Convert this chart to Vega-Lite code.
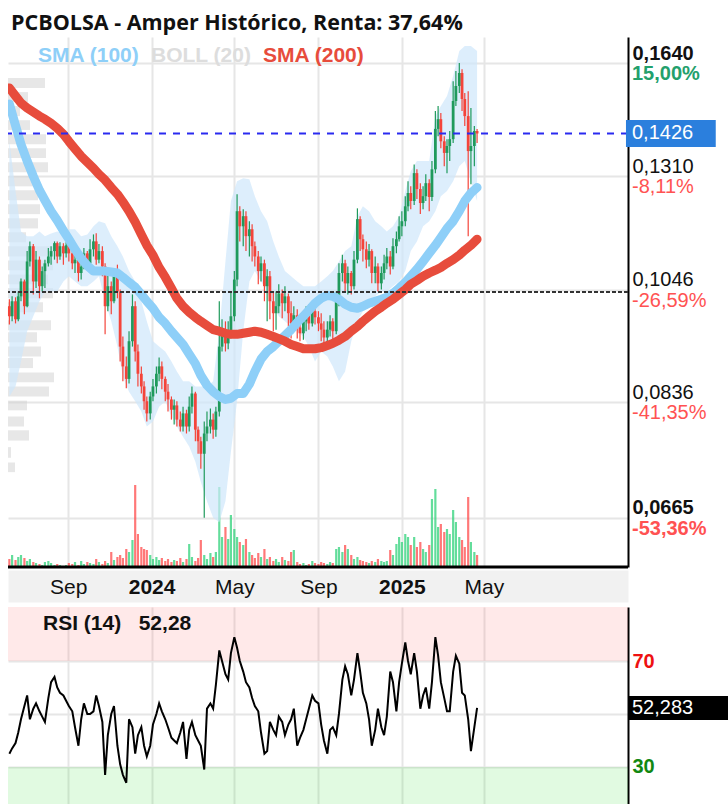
{
"$schema": "https://vega.github.io/schema/vega-lite/v6.json",
"background": "white",
"padding": {"left": 5, "top": 12, "right": 0, "bottom": 0},
"config": {"view": {"stroke": null}, "font": "Liberation Sans"},
"title": {"text": "PCBOLSA - Amper Histórico, Renta: 37,64%", "anchor": "start", "frame": "group", "dx": 3, "offset": 3, "font": "Open Sans", "fontSize": 21.5, "fontWeight": "bold", "color": "#111111"},
"bounds": "flush",
"spacing": 40,
"resolve": {"scale": {"x": "independent", "y": "independent"}},
"datasets": {
"candles": [
{"d":"2023-06-07","o":0.1012,"h":0.1026,"l":0.0976,"c":0.0992,"v":800,"r":35},
{"d":"2023-06-11","o":0.0992,"h":0.1032,"l":0.0982,"c":0.1022,"v":1200,"r":37},
{"d":"2023-06-16","o":0.1022,"h":0.1030,"l":0.0978,"c":0.0986,"v":700,"r":39},
{"d":"2023-06-20","o":0.0986,"h":0.1042,"l":0.0982,"c":0.1032,"v":1000,"r":43},
{"d":"2023-06-24","o":0.1032,"h":0.1069,"l":0.1022,"c":0.1063,"v":1200,"r":48},
{"d":"2023-06-29","o":0.1063,"h":0.1067,"l":0.0996,"c":0.1012,"v":900,"r":53},
{"d":"2023-07-03","o":0.1012,"h":0.1129,"l":0.1010,"c":0.1106,"v":600,"r":57},
{"d":"2023-07-07","o":0.1106,"h":0.1151,"l":0.1095,"c":0.1140,"v":800,"r":48},
{"d":"2023-07-12","o":0.1140,"h":0.1145,"l":0.1036,"c":0.1063,"v":500,"r":52},
{"d":"2023-07-16","o":0.1063,"h":0.1129,"l":0.1049,"c":0.1110,"v":400,"r":54},
{"d":"2023-07-21","o":0.1110,"h":0.1117,"l":0.1028,"c":0.1053,"v":300,"r":51},
{"d":"2023-07-25","o":0.1053,"h":0.1095,"l":0.1042,"c":0.1085,"v":200,"r":49},
{"d":"2023-07-29","o":0.1085,"h":0.1110,"l":0.1049,"c":0.1102,"v":500,"r":47},
{"d":"2023-08-03","o":0.1102,"h":0.1136,"l":0.1095,"c":0.1117,"v":600,"r":56},
{"d":"2023-08-07","o":0.1117,"h":0.1140,"l":0.1099,"c":0.1129,"v":400,"r":62},
{"d":"2023-08-12","o":0.1129,"h":0.1151,"l":0.1110,"c":0.1147,"v":200,"r":64},
{"d":"2023-08-16","o":0.1147,"h":0.1151,"l":0.1102,"c":0.1117,"v":300,"r":60},
{"d":"2023-08-20","o":0.1117,"h":0.1149,"l":0.1110,"c":0.1140,"v":200,"r":58},
{"d":"2023-08-25","o":0.1140,"h":0.1147,"l":0.1099,"c":0.1124,"v":100,"r":57},
{"d":"2023-08-29","o":0.1124,"h":0.1149,"l":0.1115,"c":0.1142,"v":200,"r":55},
{"d":"2023-09-02","o":0.1142,"h":0.1145,"l":0.1106,"c":0.1124,"v":400,"r":53},
{"d":"2023-09-07","o":0.1124,"h":0.1133,"l":0.1089,"c":0.1102,"v":300,"r":51},
{"d":"2023-09-11","o":0.1102,"h":0.1124,"l":0.1081,"c":0.1110,"v":500,"r":45},
{"d":"2023-09-16","o":0.1110,"h":0.1117,"l":0.1063,"c":0.1081,"v":200,"r":38},
{"d":"2023-09-20","o":0.1081,"h":0.1110,"l":0.1067,"c":0.1095,"v":600,"r":48},
{"d":"2023-09-24","o":0.1095,"h":0.1136,"l":0.1089,"c":0.1124,"v":300,"r":54},
{"d":"2023-09-29","o":0.1124,"h":0.1129,"l":0.1089,"c":0.1102,"v":500,"r":50},
{"d":"2023-10-03","o":0.1102,"h":0.1156,"l":0.1095,"c":0.1133,"v":400,"r":50},
{"d":"2023-10-08","o":0.1133,"h":0.1167,"l":0.1117,"c":0.1151,"v":300,"r":51},
{"d":"2023-10-12","o":0.1151,"h":0.1170,"l":0.1099,"c":0.1110,"v":800,"r":57},
{"d":"2023-10-16","o":0.1110,"h":0.1145,"l":0.1102,"c":0.1129,"v":500,"r":53},
{"d":"2023-10-21","o":0.1129,"h":0.1140,"l":0.1074,"c":0.1095,"v":300,"r":47},
{"d":"2023-10-25","o":0.1095,"h":0.1102,"l":0.0957,"c":0.1012,"v":600,"r":27},
{"d":"2023-10-29","o":0.1012,"h":0.1078,"l":0.1002,"c":0.1053,"v":400,"r":42},
{"d":"2023-11-03","o":0.1053,"h":0.1063,"l":0.0996,"c":0.1022,"v":1500,"r":50},
{"d":"2023-11-07","o":0.1022,"h":0.1089,"l":0.1018,"c":0.1074,"v":700,"r":53},
{"d":"2023-11-12","o":0.1074,"h":0.1099,"l":0.1028,"c":0.1042,"v":1000,"r":38},
{"d":"2023-11-16","o":0.1042,"h":0.1046,"l":0.0907,"c":0.0934,"v":1200,"r":31},
{"d":"2023-11-20","o":0.0934,"h":0.0953,"l":0.0872,"c":0.0898,"v":900,"r":27},
{"d":"2023-11-25","o":0.0898,"h":0.0916,"l":0.0860,"c":0.0876,"v":1800,"r":24},
{"d":"2023-11-29","o":0.0876,"h":0.0963,"l":0.0868,"c":0.0944,"v":1500,"r":48},
{"d":"2023-12-04","o":0.0944,"h":0.1036,"l":0.0934,"c":0.1012,"v":2700,"r":45},
{"d":"2023-12-08","o":0.1012,"h":0.1022,"l":0.0907,"c":0.0925,"v":8200,"r":35},
{"d":"2023-12-12","o":0.0925,"h":0.0938,"l":0.0863,"c":0.0885,"v":3300,"r":42},
{"d":"2023-12-17","o":0.0885,"h":0.0898,"l":0.0851,"c":0.0863,"v":2000,"r":45},
{"d":"2023-12-21","o":0.0863,"h":0.0872,"l":0.0824,"c":0.0838,"v":1800,"r":38},
{"d":"2023-12-25","o":0.0838,"h":0.0846,"l":0.0805,"c":0.0818,"v":1700,"r":34},
{"d":"2023-12-30","o":0.0818,"h":0.0854,"l":0.0808,"c":0.0846,"v":1200,"r":38},
{"d":"2024-01-03","o":0.0846,"h":0.0876,"l":0.0838,"c":0.0863,"v":800,"r":46},
{"d":"2024-01-08","o":0.0863,"h":0.0898,"l":0.0851,"c":0.0885,"v":1000,"r":50},
{"d":"2024-01-12","o":0.0885,"h":0.0914,"l":0.0872,"c":0.0898,"v":700,"r":54},
{"d":"2024-01-16","o":0.0898,"h":0.0907,"l":0.0858,"c":0.0876,"v":900,"r":51},
{"d":"2024-01-21","o":0.0876,"h":0.0880,"l":0.0838,"c":0.0854,"v":600,"r":48},
{"d":"2024-01-25","o":0.0854,"h":0.0867,"l":0.0821,"c":0.0841,"v":800,"r":45},
{"d":"2024-01-30","o":0.0841,"h":0.0846,"l":0.0808,"c":0.0824,"v":500,"r":41},
{"d":"2024-02-03","o":0.0824,"h":0.0841,"l":0.0800,"c":0.0831,"v":700,"r":40},
{"d":"2024-02-07","o":0.0831,"h":0.0838,"l":0.0797,"c":0.0808,"v":600,"r":39},
{"d":"2024-02-12","o":0.0808,"h":0.0821,"l":0.0789,"c":0.0797,"v":900,"r":43},
{"d":"2024-02-16","o":0.0797,"h":0.0829,"l":0.0789,"c":0.0818,"v":500,"r":47},
{"d":"2024-02-21","o":0.0818,"h":0.0824,"l":0.0786,"c":0.0797,"v":800,"r":33},
{"d":"2024-02-25","o":0.0797,"h":0.0846,"l":0.0789,"c":0.0829,"v":2300,"r":44},
{"d":"2024-02-29","o":0.0829,"h":0.0863,"l":0.0818,"c":0.0851,"v":1000,"r":47},
{"d":"2024-03-05","o":0.0851,"h":0.0854,"l":0.0774,"c":0.0792,"v":600,"r":42},
{"d":"2024-03-09","o":0.0792,"h":0.0797,"l":0.0755,"c":0.0774,"v":900,"r":40},
{"d":"2024-03-13","o":0.0774,"h":0.0781,"l":0.0733,"c":0.0755,"v":2700,"r":38},
{"d":"2024-03-18","o":0.0755,"h":0.0805,"l":0.0665,"c":0.0786,"v":1200,"r":29},
{"d":"2024-03-22","o":0.0786,"h":0.0821,"l":0.0774,"c":0.0797,"v":800,"r":52},
{"d":"2024-03-27","o":0.0797,"h":0.0826,"l":0.0786,"c":0.0808,"v":1400,"r":54},
{"d":"2024-03-31","o":0.0808,"h":0.0818,"l":0.0778,"c":0.0792,"v":1000,"r":52},
{"d":"2024-04-04","o":0.0792,"h":0.0829,"l":0.0781,"c":0.0821,"v":1500,"r":61},
{"d":"2024-04-09","o":0.0821,"h":0.1022,"l":0.0813,"c":0.0934,"v":8000,"r":74},
{"d":"2024-04-13","o":0.0934,"h":0.0986,"l":0.0925,"c":0.0963,"v":3000,"r":70},
{"d":"2024-04-18","o":0.0963,"h":0.0982,"l":0.0925,"c":0.0940,"v":4000,"r":65},
{"d":"2024-04-22","o":0.0940,"h":0.0982,"l":0.0929,"c":0.0963,"v":2800,"r":63},
{"d":"2024-04-26","o":0.0963,"h":0.1042,"l":0.0949,"c":0.0992,"v":5200,"r":73},
{"d":"2024-05-01","o":0.0992,"h":0.1085,"l":0.0982,"c":0.1067,"v":3800,"r":79},
{"d":"2024-05-05","o":0.1067,"h":0.1264,"l":0.1053,"c":0.1222,"v":3000,"r":75},
{"d":"2024-05-09","o":0.1222,"h":0.1234,"l":0.1151,"c":0.1186,"v":2500,"r":70},
{"d":"2024-05-14","o":0.1186,"h":0.1227,"l":0.1140,"c":0.1210,"v":2200,"r":66},
{"d":"2024-05-18","o":0.1210,"h":0.1222,"l":0.1129,"c":0.1163,"v":2800,"r":62},
{"d":"2024-05-23","o":0.1163,"h":0.1198,"l":0.1117,"c":0.1179,"v":1500,"r":60},
{"d":"2024-05-27","o":0.1179,"h":0.1191,"l":0.1106,"c":0.1140,"v":1200,"r":56},
{"d":"2024-05-31","o":0.1140,"h":0.1151,"l":0.1095,"c":0.1117,"v":900,"r":53},
{"d":"2024-06-05","o":0.1117,"h":0.1129,"l":0.1057,"c":0.1085,"v":1400,"r":51},
{"d":"2024-06-09","o":0.1085,"h":0.1117,"l":0.1063,"c":0.1102,"v":1000,"r":43},
{"d":"2024-06-14","o":0.1102,"h":0.1110,"l":0.1022,"c":0.1053,"v":1800,"r":35},
{"d":"2024-06-18","o":0.1053,"h":0.1089,"l":0.0982,"c":0.1074,"v":800,"r":36},
{"d":"2024-06-22","o":0.1074,"h":0.1085,"l":0.0986,"c":0.1022,"v":1000,"r":47},
{"d":"2024-06-27","o":0.1022,"h":0.1042,"l":0.0963,"c":0.0998,"v":600,"r":44},
{"d":"2024-07-01","o":0.0998,"h":0.1042,"l":0.0966,"c":0.1012,"v":800,"r":42},
{"d":"2024-07-05","o":0.1012,"h":0.1057,"l":0.0998,"c":0.1038,"v":500,"r":49},
{"d":"2024-07-10","o":0.1038,"h":0.1046,"l":0.0988,"c":0.1018,"v":1000,"r":47},
{"d":"2024-07-14","o":0.1018,"h":0.1053,"l":0.1002,"c":0.1032,"v":700,"r":42},
{"d":"2024-07-19","o":0.1032,"h":0.1038,"l":0.0972,"c":0.0998,"v":600,"r":46},
{"d":"2024-07-23","o":0.0998,"h":0.1022,"l":0.0949,"c":0.0978,"v":1500,"r":48},
{"d":"2024-07-27","o":0.0978,"h":0.1012,"l":0.0963,"c":0.0994,"v":1700,"r":52},
{"d":"2024-08-01","o":0.0994,"h":0.1006,"l":0.0949,"c":0.0970,"v":500,"r":38},
{"d":"2024-08-05","o":0.0970,"h":0.0988,"l":0.0944,"c":0.0959,"v":300,"r":41},
{"d":"2024-08-10","o":0.0959,"h":0.0996,"l":0.0947,"c":0.0982,"v":400,"r":44},
{"d":"2024-08-14","o":0.0982,"h":0.1012,"l":0.0963,"c":0.0998,"v":200,"r":48},
{"d":"2024-08-18","o":0.0998,"h":0.1016,"l":0.0966,"c":0.0978,"v":300,"r":52},
{"d":"2024-08-23","o":0.0978,"h":0.1014,"l":0.0972,"c":0.1002,"v":600,"r":57},
{"d":"2024-08-27","o":0.1002,"h":0.1010,"l":0.0976,"c":0.0990,"v":400,"r":55},
{"d":"2024-09-01","o":0.0990,"h":0.1002,"l":0.0963,"c":0.0978,"v":300,"r":54},
{"d":"2024-09-05","o":0.0978,"h":0.0998,"l":0.0944,"c":0.0966,"v":500,"r":46},
{"d":"2024-09-09","o":0.0966,"h":0.0982,"l":0.0938,"c":0.0951,"v":400,"r":40},
{"d":"2024-09-14","o":0.0951,"h":0.0982,"l":0.0944,"c":0.0966,"v":300,"r":35},
{"d":"2024-09-18","o":0.0966,"h":0.0994,"l":0.0953,"c":0.0982,"v":500,"r":44},
{"d":"2024-09-22","o":0.0982,"h":0.0988,"l":0.0944,"c":0.0963,"v":400,"r":45},
{"d":"2024-09-27","o":0.0963,"h":0.1042,"l":0.0957,"c":0.1022,"v":1800,"r":42},
{"d":"2024-10-01","o":0.1022,"h":0.1102,"l":0.1012,"c":0.1081,"v":2000,"r":50},
{"d":"2024-10-06","o":0.1081,"h":0.1121,"l":0.1063,"c":0.1102,"v":1500,"r":63},
{"d":"2024-10-10","o":0.1102,"h":0.1110,"l":0.1042,"c":0.1059,"v":2200,"r":68},
{"d":"2024-10-14","o":0.1059,"h":0.1095,"l":0.1036,"c":0.1081,"v":1800,"r":65},
{"d":"2024-10-19","o":0.1081,"h":0.1085,"l":0.1036,"c":0.1053,"v":1200,"r":57},
{"d":"2024-10-23","o":0.1053,"h":0.1129,"l":0.1046,"c":0.1110,"v":800,"r":63},
{"d":"2024-10-28","o":0.1110,"h":0.1229,"l":0.1102,"c":0.1203,"v":1000,"r":73},
{"d":"2024-11-01","o":0.1203,"h":0.1210,"l":0.1129,"c":0.1156,"v":700,"r":66},
{"d":"2024-11-05","o":0.1156,"h":0.1167,"l":0.1106,"c":0.1133,"v":600,"r":58},
{"d":"2024-11-10","o":0.1133,"h":0.1151,"l":0.1091,"c":0.1110,"v":500,"r":54},
{"d":"2024-11-14","o":0.1110,"h":0.1145,"l":0.1095,"c":0.1129,"v":400,"r":48},
{"d":"2024-11-18","o":0.1129,"h":0.1133,"l":0.1059,"c":0.1081,"v":600,"r":38},
{"d":"2024-11-23","o":0.1081,"h":0.1117,"l":0.1059,"c":0.1095,"v":500,"r":44},
{"d":"2024-11-27","o":0.1095,"h":0.1102,"l":0.1042,"c":0.1059,"v":800,"r":52},
{"d":"2024-12-02","o":0.1059,"h":0.1095,"l":0.1046,"c":0.1081,"v":600,"r":45},
{"d":"2024-12-06","o":0.1081,"h":0.1121,"l":0.1067,"c":0.1102,"v":500,"r":42},
{"d":"2024-12-10","o":0.1102,"h":0.1136,"l":0.1089,"c":0.1117,"v":600,"r":49},
{"d":"2024-12-15","o":0.1117,"h":0.1129,"l":0.1078,"c":0.1095,"v":1700,"r":66},
{"d":"2024-12-19","o":0.1095,"h":0.1158,"l":0.1089,"c":0.1140,"v":1200,"r":62},
{"d":"2024-12-24","o":0.1140,"h":0.1174,"l":0.1124,"c":0.1156,"v":2300,"r":51},
{"d":"2024-12-28","o":0.1156,"h":0.1210,"l":0.1151,"c":0.1186,"v":3000,"r":62},
{"d":"2025-01-01","o":0.1186,"h":0.1222,"l":0.1163,"c":0.1198,"v":2500,"r":69},
{"d":"2025-01-06","o":0.1198,"h":0.1259,"l":0.1186,"c":0.1234,"v":3300,"r":77},
{"d":"2025-01-10","o":0.1234,"h":0.1297,"l":0.1222,"c":0.1267,"v":3000,"r":70},
{"d":"2025-01-14","o":0.1267,"h":0.1284,"l":0.1227,"c":0.1247,"v":2200,"r":65},
{"d":"2025-01-19","o":0.1247,"h":0.1341,"l":0.1237,"c":0.1318,"v":3000,"r":73},
{"d":"2025-01-23","o":0.1318,"h":0.1328,"l":0.1252,"c":0.1277,"v":2000,"r":66},
{"d":"2025-01-28","o":0.1277,"h":0.1292,"l":0.1215,"c":0.1242,"v":2500,"r":52},
{"d":"2025-02-01","o":0.1242,"h":0.1284,"l":0.1227,"c":0.1259,"v":1800,"r":57},
{"d":"2025-02-05","o":0.1259,"h":0.1315,"l":0.1247,"c":0.1292,"v":1500,"r":60},
{"d":"2025-02-10","o":0.1292,"h":0.1302,"l":0.1222,"c":0.1257,"v":2200,"r":52},
{"d":"2025-02-14","o":0.1257,"h":0.1350,"l":0.1247,"c":0.1328,"v":6800,"r":62},
{"d":"2025-02-19","o":0.1328,"h":0.1491,"l":0.1318,"c":0.1439,"v":7800,"r":79},
{"d":"2025-02-23","o":0.1439,"h":0.1506,"l":0.1418,"c":0.1467,"v":4000,"r":72},
{"d":"2025-02-27","o":0.1467,"h":0.1485,"l":0.1385,"c":0.1404,"v":4300,"r":62},
{"d":"2025-03-04","o":0.1404,"h":0.1418,"l":0.1336,"c":0.1372,"v":3500,"r":56},
{"d":"2025-03-08","o":0.1372,"h":0.1410,"l":0.1318,"c":0.1391,"v":3800,"r":51},
{"d":"2025-03-12","o":0.1391,"h":0.1433,"l":0.1350,"c":0.1410,"v":3300,"r":51},
{"d":"2025-03-17","o":0.1410,"h":0.1582,"l":0.1399,"c":0.1521,"v":5700,"r":66},
{"d":"2025-03-21","o":0.1521,"h":0.1614,"l":0.1506,"c":0.1567,"v":4500,"r":72},
{"d":"2025-03-26","o":0.1567,"h":0.1640,"l":0.1545,"c":0.1608,"v":3000,"r":69},
{"d":"2025-03-30","o":0.1608,"h":0.1620,"l":0.1491,"c":0.1527,"v":2700,"r":58},
{"d":"2025-04-03","o":0.1527,"h":0.1545,"l":0.1447,"c":0.1476,"v":2000,"r":57},
{"d":"2025-04-08","o":0.1476,"h":0.1551,"l":0.1163,"c":0.1377,"v":7000,"r":48},
{"d":"2025-04-12","o":0.1377,"h":0.1500,"l":0.1289,"c":0.1391,"v":2500,"r":36},
{"d":"2025-04-17","o":0.1391,"h":0.1447,"l":0.1336,"c":0.1433,"v":1500,"r":45},
{"d":"2025-04-21","o":0.1433,"h":0.1439,"l":0.1399,"c":0.1426,"v":1200,"r":52.28}
],
"ind": [
{"d":"2023-06-07","up":0.1404,"lo":0.0846,"s100":0.1512,"s200":0.1561},
{"d":"2023-06-16","up":0.1272,"lo":0.0863,"s100":0.1449,"s200":0.1536},
{"d":"2023-06-24","up":0.1174,"lo":0.0907,"s100":0.1396,"s200":0.1515},
{"d":"2023-07-03","up":0.1163,"lo":0.0963,"s100":0.1350,"s200":0.1500},
{"d":"2023-07-12","up":0.1163,"lo":0.0992,"s100":0.1310,"s200":0.1488},
{"d":"2023-07-21","up":0.1174,"lo":0.1022,"s100":0.1274,"s200":0.1476},
{"d":"2023-07-29","up":0.1163,"lo":0.1042,"s100":0.1249,"s200":0.1467},
{"d":"2023-08-07","up":0.1169,"lo":0.1042,"s100":0.1222,"s200":0.1455},
{"d":"2023-08-16","up":0.1174,"lo":0.1042,"s100":0.1200,"s200":0.1441},
{"d":"2023-08-25","up":0.1169,"lo":0.1063,"s100":0.1176,"s200":0.1424},
{"d":"2023-09-02","up":0.1179,"lo":0.1074,"s100":0.1156,"s200":0.1404},
{"d":"2023-09-11","up":0.1179,"lo":0.1063,"s100":0.1133,"s200":0.1383},
{"d":"2023-09-20","up":0.1163,"lo":0.1053,"s100":0.1113,"s200":0.1363},
{"d":"2023-09-29","up":0.1167,"lo":0.1053,"s100":0.1097,"s200":0.1347},
{"d":"2023-10-08","up":0.1186,"lo":0.1063,"s100":0.1085,"s200":0.1331},
{"d":"2023-10-16","up":0.1198,"lo":0.1074,"s100":0.1085,"s200":0.1315},
{"d":"2023-10-25","up":0.1193,"lo":0.1022,"s100":0.1085,"s200":0.1300},
{"d":"2023-11-03","up":0.1163,"lo":0.0982,"s100":0.1083,"s200":0.1281},
{"d":"2023-11-12","up":0.1140,"lo":0.0934,"s100":0.1081,"s200":0.1264},
{"d":"2023-11-20","up":0.1117,"lo":0.0880,"s100":0.1072,"s200":0.1245},
{"d":"2023-11-29","up":0.1085,"lo":0.0854,"s100":0.1061,"s200":0.1222},
{"d":"2023-12-08","up":0.1063,"lo":0.0838,"s100":0.1051,"s200":0.1196},
{"d":"2023-12-17","up":0.1022,"lo":0.0821,"s100":0.1036,"s200":0.1167},
{"d":"2023-12-25","up":0.0982,"lo":0.0797,"s100":0.1022,"s200":0.1142},
{"d":"2024-01-03","up":0.0944,"lo":0.0805,"s100":0.1008,"s200":0.1120},
{"d":"2024-01-12","up":0.0934,"lo":0.0829,"s100":0.0990,"s200":0.1093},
{"d":"2024-01-21","up":0.0925,"lo":0.0838,"s100":0.0978,"s200":0.1072},
{"d":"2024-01-30","up":0.0907,"lo":0.0813,"s100":0.0963,"s200":0.1049},
{"d":"2024-02-07","up":0.0889,"lo":0.0797,"s100":0.0951,"s200":0.1028},
{"d":"2024-02-16","up":0.0872,"lo":0.0781,"s100":0.0938,"s200":0.1012},
{"d":"2024-02-25","up":0.0872,"lo":0.0766,"s100":0.0920,"s200":0.1000},
{"d":"2024-03-05","up":0.0863,"lo":0.0743,"s100":0.0903,"s200":0.0990},
{"d":"2024-03-13","up":0.0863,"lo":0.0714,"s100":0.0882,"s200":0.0982},
{"d":"2024-03-22","up":0.0863,"lo":0.0687,"s100":0.0865,"s200":0.0974},
{"d":"2024-03-31","up":0.0872,"lo":0.0665,"s100":0.0854,"s200":0.0966},
{"d":"2024-04-09","up":0.0963,"lo":0.0659,"s100":0.0846,"s200":0.0963},
{"d":"2024-04-18","up":0.1106,"lo":0.0687,"s100":0.0841,"s200":0.0959},
{"d":"2024-04-26","up":0.1247,"lo":0.0758,"s100":0.0843,"s200":0.0957},
{"d":"2024-05-05","up":0.1297,"lo":0.0838,"s100":0.0851,"s200":0.0957},
{"d":"2024-05-14","up":0.1305,"lo":0.0963,"s100":0.0851,"s200":0.0959},
{"d":"2024-05-23","up":0.1302,"lo":0.1063,"s100":0.0867,"s200":0.0961},
{"d":"2024-05-31","up":0.1259,"lo":0.1085,"s100":0.0889,"s200":0.0963},
{"d":"2024-06-09","up":0.1222,"lo":0.1063,"s100":0.0911,"s200":0.0961},
{"d":"2024-06-18","up":0.1198,"lo":0.1042,"s100":0.0925,"s200":0.0957},
{"d":"2024-06-27","up":0.1151,"lo":0.1012,"s100":0.0934,"s200":0.0953},
{"d":"2024-07-05","up":0.1117,"lo":0.0992,"s100":0.0944,"s200":0.0949},
{"d":"2024-07-14","up":0.1085,"lo":0.0982,"s100":0.0955,"s200":0.0944},
{"d":"2024-07-23","up":0.1074,"lo":0.0972,"s100":0.0966,"s200":0.0938},
{"d":"2024-08-01","up":0.1063,"lo":0.0963,"s100":0.0980,"s200":0.0934},
{"d":"2024-08-10","up":0.1053,"lo":0.0953,"s100":0.0992,"s200":0.0930},
{"d":"2024-08-18","up":0.1053,"lo":0.0934,"s100":0.1004,"s200":0.0930},
{"d":"2024-08-27","up":0.1053,"lo":0.0907,"s100":0.1018,"s200":0.0930},
{"d":"2024-09-05","up":0.1063,"lo":0.0925,"s100":0.1028,"s200":0.0932},
{"d":"2024-09-14","up":0.1074,"lo":0.0916,"s100":0.1034,"s200":0.0936},
{"d":"2024-09-22","up":0.1085,"lo":0.0898,"s100":0.1032,"s200":0.0940},
{"d":"2024-10-01","up":0.1106,"lo":0.0872,"s100":0.1026,"s200":0.0946},
{"d":"2024-10-10","up":0.1129,"lo":0.0889,"s100":0.1016,"s200":0.0953},
{"d":"2024-10-19","up":0.1140,"lo":0.0944,"s100":0.1010,"s200":0.0963},
{"d":"2024-10-28","up":0.1210,"lo":0.0982,"s100":0.1008,"s200":0.0972},
{"d":"2024-11-05","up":0.1234,"lo":0.1002,"s100":0.1012,"s200":0.0982},
{"d":"2024-11-14","up":0.1222,"lo":0.1022,"s100":0.1018,"s200":0.0992},
{"d":"2024-11-23","up":0.1198,"lo":0.1032,"s100":0.1022,"s200":0.1002},
{"d":"2024-12-02","up":0.1186,"lo":0.1042,"s100":0.1026,"s200":0.1010},
{"d":"2024-12-10","up":0.1174,"lo":0.1042,"s100":0.1030,"s200":0.1018},
{"d":"2024-12-19","up":0.1186,"lo":0.1053,"s100":0.1038,"s200":0.1026},
{"d":"2024-12-28","up":0.1210,"lo":0.1063,"s100":0.1049,"s200":0.1036},
{"d":"2025-01-06","up":0.1272,"lo":0.1085,"s100":0.1061,"s200":0.1046},
{"d":"2025-01-14","up":0.1323,"lo":0.1129,"s100":0.1074,"s200":0.1057},
{"d":"2025-01-23","up":0.1350,"lo":0.1151,"s100":0.1089,"s200":0.1065},
{"d":"2025-02-01","up":0.1350,"lo":0.1186,"s100":0.1106,"s200":0.1074},
{"d":"2025-02-10","up":0.1350,"lo":0.1198,"s100":0.1124,"s200":0.1081},
{"d":"2025-02-19","up":0.1476,"lo":0.1222,"s100":0.1142,"s200":0.1087},
{"d":"2025-02-27","up":0.1506,"lo":0.1259,"s100":0.1160,"s200":0.1093},
{"d":"2025-03-08","up":0.1536,"lo":0.1272,"s100":0.1181,"s200":0.1102},
{"d":"2025-03-17","up":0.1598,"lo":0.1297,"s100":0.1198,"s200":0.1110},
{"d":"2025-03-26","up":0.1680,"lo":0.1336,"s100":0.1222,"s200":0.1120},
{"d":"2025-04-03","up":0.1696,"lo":0.1350,"s100":0.1247,"s200":0.1131},
{"d":"2025-04-12","up":0.1696,"lo":0.1297,"s100":0.1267,"s200":0.1142},
{"d":"2025-04-21","up":0.1680,"lo":0.1247,"s100":0.1281,"s200":0.1156}
],
"vp": [
{"lo":0.1561,"hi":0.1592,"n":3700},
{"lo":0.1518,"hi":0.1548,"n":2000},
{"lo":0.1476,"hi":0.1506,"n":1200},
{"lo":0.1436,"hi":0.1464,"n":2200},
{"lo":0.1396,"hi":0.1424,"n":3800},
{"lo":0.1358,"hi":0.1385,"n":3800},
{"lo":0.1320,"hi":0.1347,"n":4000},
{"lo":0.1284,"hi":0.1310,"n":3000},
{"lo":0.1249,"hi":0.1274,"n":3000},
{"lo":0.1215,"hi":0.1239,"n":3200},
{"lo":0.1181,"hi":0.1205,"n":3000},
{"lo":0.1149,"hi":0.1172,"n":1800},
{"lo":0.1117,"hi":0.1140,"n":5000},
{"lo":0.1087,"hi":0.1108,"n":4500},
{"lo":0.1057,"hi":0.1078,"n":4000},
{"lo":0.1028,"hi":0.1049,"n":4500},
{"lo":0.1000,"hi":0.1020,"n":3500},
{"lo":0.0965,"hi":0.0984,"n":4300},
{"lo":0.0942,"hi":0.0961,"n":2900},
{"lo":0.0916,"hi":0.0934,"n":3300},
{"lo":0.0895,"hi":0.0913,"n":2500},
{"lo":0.0870,"hi":0.0887,"n":4600},
{"lo":0.0846,"hi":0.0863,"n":4100},
{"lo":0.0823,"hi":0.0839,"n":1900},
{"lo":0.0797,"hi":0.0813,"n":1600},
{"lo":0.0775,"hi":0.0791,"n":2100},
{"lo":0.0749,"hi":0.0765,"n":300},
{"lo":0.0728,"hi":0.0742,"n":700}
],
"pct": [
{"p":0.164,"t":"15,00%"},
{"p":0.131,"t":"-8,11%"},
{"p":0.1046,"t":"-26,59%"},
{"p":0.0836,"t":"-41,35%"},
{"p":0.0665,"t":"-53,36%"}
]
},
"vconcat": [
{
"width": 620,
"height": 530,
"resolve": {"scale": {"x": "independent", "y": "independent"}},
"layer": [
{
"data": {"name": "vp"},
"mark": {"type": "rect", "color": "#cfcfcf", "opacity": 0.5},
"encoding": {
"x": {"field": "n", "type": "quantitative", "scale": {"domain": [0, 62000], "nice": false}, "axis": null},
"x2": {"datum": 0},
"y": {"field": "lo", "type": "quantitative", "scale": {"type": "log", "domain": [0.0603, 0.1727], "nice": false}, "axis": null},
"y2": {"field": "hi"}
}
},
{
"data": {"name": "candles"},
"mark": {"type": "rule", "strokeWidth": 2.2, "opacity": 0.75},
"encoding": {
"x": {"field": "d", "type": "temporal", "scale": {"domain": [{"year": 2023, "month": "Jun", "date": 5}, {"year": 2025, "month": "Nov", "date": 27, "hours": 17}], "nice": false},
"axis": {"title": null, "orient": "bottom", "labels": false, "ticks": false, "tickSize": 0, "grid": false, "domain": true, "domainColor": "#f1f1f1", "domainWidth": 32, "domainCap": "butt", "offset": 19}},
"y": {"field": "v", "type": "quantitative", "scale": {"domain": [0, 53000], "nice": false}, "axis": null},
"y2": {"datum": 0},
"color": {"condition": {"test": "datum.c >= datum.o", "value": "#2fd17a"}, "value": "#ff4b4b"}
}
},
{
"layer": [
{
"data": {"name": "ind"},
"mark": {"type": "area", "color": "#cfe7fb", "opacity": 0.7, "clip": true},
"encoding": {
"x": {"field": "d", "type": "temporal",
"scale": {"domain": [{"year": 2023, "month": "Jun", "date": 5}, {"year": 2025, "month": "Nov", "date": 27, "hours": 17}], "nice": false},
"axis": {"title": null, "orient": "bottom",
"values": [{"year": 2023, "month": "Sep", "date": 1}, {"year": 2024, "month": "Jan", "date": 1}, {"year": 2024, "month": "May", "date": 1}, {"year": 2024, "month": "Sep", "date": 1}, {"year": 2025, "month": "Jan", "date": 1}, {"year": 2025, "month": "May", "date": 1}],
"labelExpr": "month(datum.value) == 0 ? timeFormat(datum.value, '%Y') : timeFormat(datum.value, '%b')",
"labelFontWeight": {"condition": {"test": "month(datum.value) == 0", "value": "bold"}, "value": "normal"},
"labelFontSize": 21, "labelColor": "#111111", "labelBaseline": "middle", "labelPadding": 20,
"labelOverlap": false, "labelFlush": false, "labelBound": false,
"ticks": false, "tickSize": 0,
"domain": false,
"grid": true, "gridColor": "#e6e6e6", "gridWidth": 2}
},
"y": {"field": "lo", "type": "quantitative",
"scale": {"type": "log", "domain": [0.0603, 0.1727], "nice": false},
"axis": {"title": null, "orient": "right",
"values": [0.164, 0.131, 0.1046, 0.0836, 0.0665],
"labelExpr": "replace(format(datum.value, '.4f'), '.', ',')",
"labelFontSize": 20, "labelColor": "#111111", "labelBaseline": "alphabetic", "labelOffset": -4, "labelPadding": 4,
"labelFontWeight": {"condition": {"test": "datum.value > 0.16 || datum.value < 0.07", "value": "bold"}, "value": "normal"},
"labelOverlap": false, "labelFlush": false, "labelBound": false,
"ticks": false, "tickSize": 0,
"domain": true, "domainColor": "#000000", "domainWidth": 2,
"grid": true, "gridColor": "#e6e6e6", "gridWidth": 2}
},
"y2": {"field": "up"}
}
},
{
"data": {"name": "candles"},
"mark": {"type": "rule", "strokeWidth": 1.2},
"encoding": {
"x": {"field": "d", "type": "temporal"},
"y": {"field": "l", "type": "quantitative"},
"y2": {"field": "h"},
"color": {"condition": {"test": "datum.c >= datum.o", "value": "#1f9a5c"}, "value": "#f4443a"}
}
},
{
"data": {"name": "candles"},
"mark": {"type": "rule", "strokeWidth": 2.8},
"encoding": {
"x": {"field": "d", "type": "temporal"},
"y": {"field": "o", "type": "quantitative"},
"y2": {"field": "c"},
"color": {"condition": {"test": "datum.c >= datum.o", "value": "#1f9a5c"}, "value": "#f4443a"}
}
},
{
"data": {"name": "ind"},
"transform": [{"fold": ["s100", "s200"], "as": ["k", "p"]}],
"mark": {"type": "line", "strokeWidth": 9, "strokeCap": "round", "strokeJoin": "round", "clip": true},
"encoding": {
"x": {"field": "d", "type": "temporal"},
"y": {"field": "p", "type": "quantitative"},
"color": {"field": "k", "type": "nominal",
"scale": {"domain": ["s100", "boll", "s200"], "range": ["#8ecff8", "#dddddd", "#e74c3c"]},
"legend": {"orient": "none", "legendX": 35, "legendY": 8, "direction": "horizontal", "columns": 3, "title": null,
"symbolType": "circle", "symbolSize": 1, "symbolStrokeWidth": 0, "symbolOpacity": 0, "symbolOffset": 0, "labelOffset": -26,
"gridAlign": "none", "columnPadding": 11, "padding": 0,
"labelFont": "Liberation Sans", "labelFontSize": 21, "labelFontWeight": "bold", "labelLimit": 300,
"labelExpr": "datum.value == 's100' ? 'SMA (100)' : datum.value == 'boll' ? 'BOLL (20)' : 'SMA (200)'",
"encode": {"labels": {"update": {"fill": {"signal": "datum.value == 's100' ? '#8ecff8' : datum.value == 'boll' ? '#dddddd' : '#e74c3c'"}}}}}
}
}
},
{
"data": {"values": [{"p": 0.1426}]},
"mark": {"type": "rule", "color": "#2a2af0", "strokeWidth": 2, "strokeDash": [7, 7]},
"encoding": {"y": {"field": "p", "type": "quantitative"}}
},
{
"data": {"values": [{"p": 0.1041}]},
"mark": {"type": "rule", "color": "#333333", "strokeWidth": 2, "strokeDash": [4, 2]},
"encoding": {"y": {"field": "p", "type": "quantitative"}}
},
{
"data": {"values": [{"p": 0.0603}]},
"mark": {"type": "rule", "color": "#000000", "strokeWidth": 3},
"encoding": {"y": {"field": "p", "type": "quantitative"}}
},
{
"data": {"name": "pct"},
"transform": [{"filter": "datum.p < 0.16 && datum.p > 0.07"}],
"mark": {"type": "text", "align": "left", "baseline": "alphabetic", "dx": 4, "dy": 17, "fontSize": 20},
"encoding": {
"x": {"value": "width"},
"y": {"field": "p", "type": "quantitative"},
"text": {"field": "t"},
"color": {"condition": {"test": "datum.p > 0.1426", "value": "#23a06c"}, "value": "#ff5252"}
}
},
{
"data": {"name": "pct"},
"transform": [{"filter": "datum.p > 0.16 || datum.p < 0.07"}],
"mark": {"type": "text", "align": "left", "baseline": "alphabetic", "dx": 4, "dy": 17, "fontSize": 20, "fontWeight": "bold"},
"encoding": {
"x": {"value": "width"},
"y": {"field": "p", "type": "quantitative"},
"text": {"field": "t"},
"color": {"condition": {"test": "datum.p > 0.1426", "value": "#23a06c"}, "value": "#ff5252"}
}
},
{
"data": {"values": [{"p": 0.1426}]},
"mark": {"type": "point", "shape": "M-0.15,-1H6.5V1H-0.15Z", "size": 729, "filled": true, "color": "#2b7fdd", "opacity": 1, "strokeWidth": 0},
"encoding": {"x": {"value": "width"}, "y": {"field": "p", "type": "quantitative"}}
},
{
"data": {"values": [{"p": 0.1426, "t": "0,1426"}]},
"mark": {"type": "text", "align": "left", "baseline": "middle", "dx": 4, "fontSize": 20, "color": "#ffffff"},
"encoding": {"x": {"value": "width"}, "y": {"field": "p", "type": "quantitative"}, "text": {"field": "t"}}
}
]
}
]
},
{
"width": 620,
"height": 197,
"title": {"text": "RSI (14)\u00a0\u00a0\u00a052,28", "anchor": "start", "frame": "group", "offset": -27, "dx": 35, "font": "Liberation Sans", "fontSize": 21, "fontWeight": "bold", "color": "#111111"},
"layer": [
{
"data": {"values": [{"a": 70, "b": 90.4}]},
"mark": {"type": "rect", "color": "#ff6b6b", "opacity": 0.15},
"encoding": {"y": {"field": "a", "type": "quantitative"}, "y2": {"field": "b"}}
},
{
"data": {"values": [{"a": 16, "b": 30}]},
"mark": {"type": "rect", "color": "#33dd33", "opacity": 0.15},
"encoding": {"y": {"field": "a", "type": "quantitative"}, "y2": {"field": "b"}}
},
{
"data": {"name": "candles"},
"mark": {"type": "line", "color": "#000000", "strokeWidth": 2},
"encoding": {
"x": {"field": "d", "type": "temporal",
"scale": {"domain": [{"year": 2023, "month": "Jun", "date": 5}, {"year": 2025, "month": "Nov", "date": 27, "hours": 17}], "nice": false},
"axis": {"title": null, "labels": false, "ticks": false, "domain": false, "grid": true, "gridColor": "#e6e6e6", "gridWidth": 2,
"values": [{"year": 2023, "month": "Sep", "date": 1}, {"year": 2024, "month": "Jan", "date": 1}, {"year": 2024, "month": "May", "date": 1}, {"year": 2024, "month": "Sep", "date": 1}, {"year": 2025, "month": "Jan", "date": 1}, {"year": 2025, "month": "May", "date": 1}]}},
"y": {"field": "r", "type": "quantitative",
"scale": {"domain": [16, 90.4], "nice": false, "zero": false},
"axis": {"title": null, "orient": "right", "values": [70, 50, 30],
"labelExpr": "datum.value == 50 ? '' : datum.label",
"labelFontSize": 20, "labelFontWeight": "bold", "labelBaseline": "middle", "labelPadding": 4,
"labelColor": {"condition": {"test": "datum.value == 70", "value": "#ee1111"}, "value": "#118811"},
"labelOverlap": false, "labelFlush": false, "labelBound": false,
"ticks": false, "tickSize": 0, "domain": true, "domainColor": "#000000", "domainWidth": 2,
"grid": true, "gridColor": "#e6e6e6", "gridWidth": 2}}
}
},
{
"data": {"values": [{"r": 52.283}]},
"mark": {"type": "point", "shape": "M0,-1H8.6V1H0Z", "size": 576, "filled": true, "color": "#000000", "opacity": 1, "strokeWidth": 0},
"encoding": {"x": {"value": "width"}, "y": {"field": "r", "type": "quantitative"}}
},
{
"data": {"values": [{"r": 52.283, "t": "52,283"}]},
"mark": {"type": "text", "align": "left", "baseline": "middle", "dx": 4, "fontSize": 20, "color": "#ffffff"},
"encoding": {"x": {"value": "width"}, "y": {"field": "r", "type": "quantitative"}, "text": {"field": "t"}}
}
]
}
]
}
